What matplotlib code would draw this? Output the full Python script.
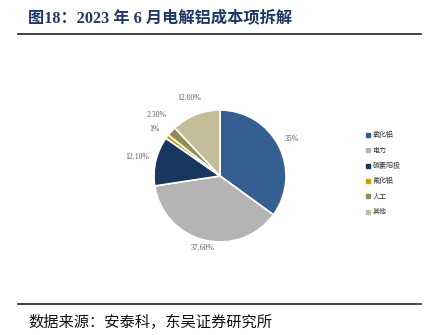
import matplotlib
matplotlib.use("Agg")
import matplotlib.pyplot as plt
from matplotlib.lines import Line2D
import numpy as np

categories = ["氧化铝", "电力", "碳素阳极", "氟化铝", "人工", "其他"]
values = [35.0, 37.6, 12.1, 1.0, 2.3, 12.0]
value_labels = ["35%", "37.60%", "12.10%", "1%", "2.30%", "12.00%"]
colors = ["#365F91", "#B4B4B4", "#17375E", "#C9A000", "#948A54", "#C4BD97"]

title = "图18：2023 年 6 月电解铝成本项拆解"
source = "数据来源：安泰科，东吴证券研究所"

W, H = 435, 335
fig = plt.figure(figsize=(W / 100, H / 100), dpi=100)

# pie axes: center (220,176) radius 66 px
cx, cy, r = 220, 176, 66
ax = fig.add_axes([(cx - r) / W, (H - cy - r) / H, 2 * r / W, 2 * r / H])
wedges, texts = ax.pie(values, colors=colors, startangle=90, counterclock=False,
                       labels=value_labels, labeldistance=1.22,
                       wedgeprops=dict(edgecolor="white", linewidth=1.2),
                       textprops=dict(family="Liberation Serif", fontsize=5.6, color="#595959"))
# fine-tune label radii / offsets
adj = {0: (1.22, 0, 0), 1: (1.13, 0, 0), 2: (1.28, 0, 0), 3: (1.23, 0.0, -0.02),
       4: (1.30, 0.0, 0.04), 5: (1.27, 0, 0)}
start = 90.0
total = sum(values)
for i, v in enumerate(values):
    ang = start - 360 * v / total / 2
    start -= 360 * v / total
    rd, dx, dy = adj[i]
    texts[i].set_position((rd * np.cos(np.radians(ang)) + dx, rd * np.sin(np.radians(ang)) + dy))
    texts[i].set_ha("center")
    texts[i].set_va("center")
ax.set_xlim(-1, 1)
ax.set_ylim(-1, 1)
ax.set_aspect("equal")

# legend
handles = [Line2D([], [], marker="s", linestyle="", markersize=2.2, color=c) for c in colors]
fig.legend(handles, categories, loc="upper left", bbox_to_anchor=(362 / W, 1 - 128 / H),
           frameon=False, prop=dict(family=["Noto Sans CJK SC"], size=5),
           handlelength=0.6, handletextpad=0.4, labelspacing=1.05, borderpad=0,
           labelcolor="#333333")

# title & lines
fig.text(28 / W, 1 - 18 / H, title, fontsize=11.7, fontweight="bold", color="#1F3864",
         family=["Liberation Serif", "Noto Sans CJK SC"], va="center", ha="left")
fig.add_artist(Line2D([18 / W, 421 / W], [1 - 34 / H, 1 - 34 / H], color="#222222", linewidth=1.2))
fig.add_artist(Line2D([18 / W, 421 / W], [1 - 304 / H, 1 - 304 / H], color="#222222", linewidth=1.2))
fig.text(28 / W, 1 - 322 / H, source, fontsize=11, color="#111111",
         family=["Noto Sans CJK SC"], va="center", ha="left")

fig.savefig("out.png", dpi=100, facecolor="white")
